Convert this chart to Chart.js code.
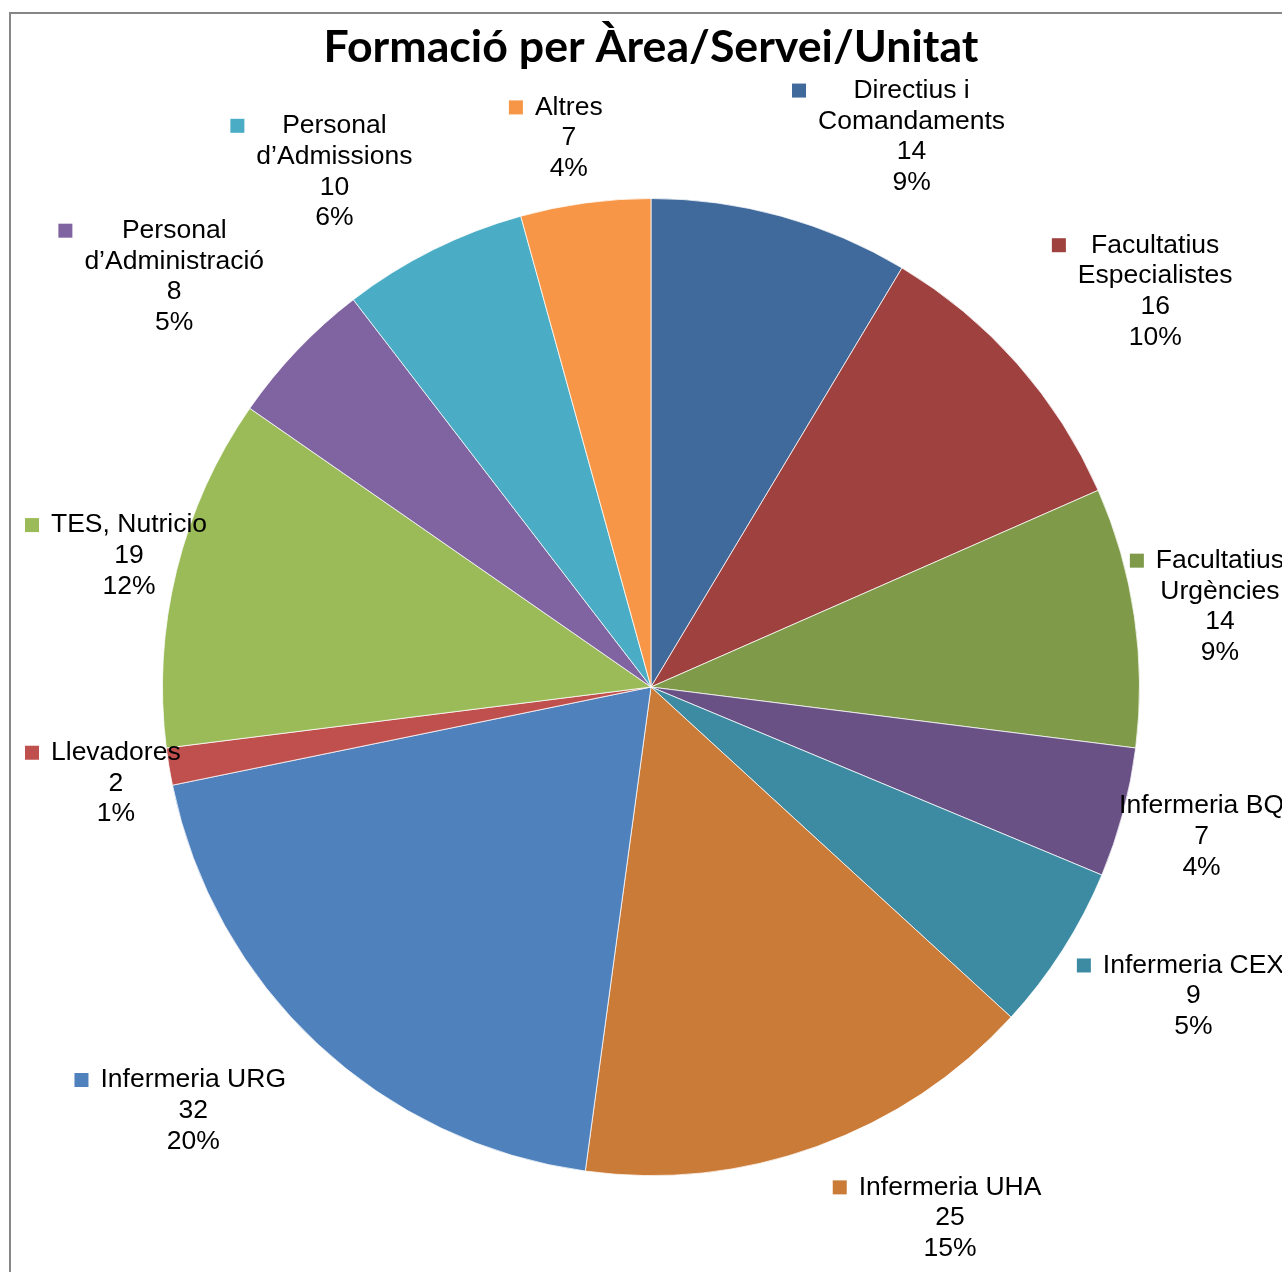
<!DOCTYPE html>
<html><head><meta charset="utf-8">
<script src="https://cdn.jsdelivr.net/npm/chart.js@4.4.1/dist/chart.umd.min.js"></script>
<style>html,body{margin:0;padding:0;background:#fff;}canvas{display:block;}</style>
</head><body>
<canvas id="c" width="1282" height="1272"></canvas>
<script>
const categories = ['Directius i Comandaments','Facultatius Especialistes','Facultatius Urgències','Infermeria BQ','Infermeria CEX','Infermeria UHA','Infermeria URG','Llevadores','TES, Nutricio','Personal d’Administració','Personal d’Admissions','Altres'];
const values = [14,16,14,7,9,25,32,2,19,8,10,7];
const percentLabels = ['9%','10%','9%','4%','5%','15%','20%','1%','12%','5%','6%','4%'];
const sliceColors = ['#406A9B','#9E413F','#7F9A48','#695185','#3C8BA3','#CB7B38','#4F81BD','#C0504D','#9BBB59','#8064A2','#4BACC6','#F79646'];
const titleText = 'Formació per Àrea/Servei/Unitat';

const mctx = document.createElement('canvas').getContext('2d');
mctx.font = 'bold 100px Lato';
const titleSize = Math.round(100 * 655 / mctx.measureText(titleText).width * 10) / 10;
const titlePadTop = 48 - titleSize * 0.6;
const titlePadBottom = 102 - titlePadTop - titleSize * 1.2;

function wrap(ctx, text, maxW) {
  const words = text.split(' '); const out = []; let cur = '';
  for (const w of words) {
    const t = cur ? cur + ' ' + w : w;
    if (cur && ctx.measureText(t).width > maxW) { out.push(cur); cur = w; } else cur = t;
  }
  if (cur) out.push(cur);
  return out;
}

const framePlugin = {
  id: 'frame',
  beforeDraw(chart) {
    const ctx = chart.ctx;
    ctx.save();
    ctx.fillStyle = '#ffffff';
    ctx.fillRect(0, 0, chart.width, chart.height);
    ctx.strokeStyle = '#868686';
    ctx.lineWidth = 2;
    ctx.strokeRect(10, 13, 3000, 3000);
    ctx.restore();
  }
};

const labelPlugin = {
  id: 'sliceLabels',
  afterDatasetsDraw(chart) {
    const ctx = chart.ctx;
    const meta = chart.getDatasetMeta(0);
    const lineH = 30.7, key = 14, keyGap = 12, gapX = 46, gapY = 23, textShift = 4, maxW = 200, k = 3.7;
    const bounds = {l: 25, r: 1284, t: 40, b: 1272};
    ctx.save();
    ctx.font = '26.5px "Liberation Sans", Arial, sans-serif';
    meta.data.forEach((arc, i) => {
      const {x, y, startAngle, endAngle, outerRadius} = arc.getProps(['x','y','startAngle','endAngle','outerRadius'], true);
      const lines = wrap(ctx, categories[i], maxW).concat([String(values[i]), percentLabels[i]]);
      const tw = Math.max(...lines.map(s => ctx.measureText(s).width));
      const W = key + keyGap + tw, H = lines.length * lineH;
      const mid = (startAngle + endAngle) / 2;
      const sx = Math.cos(mid), sy = Math.sin(mid);
      const ax = x + sx * (outerRadius + gapX), ay = y + sy * (outerRadius + gapY);
      const fx = Math.min(1, k * Math.abs(sx)), fy = Math.min(1, k * Math.abs(sy));
      let cx = ax + Math.sign(sx) * W / 2 * fx;
      let cy = ay + Math.sign(sy) * H / 2 * fy;
      if (cx - W / 2 < bounds.l || cx + W / 2 > bounds.r) {
        cy = ay + Math.sign(sy) * H / 2 * Math.abs(sy) * 1.2;
        cx = Math.min(Math.max(cx, bounds.l + W / 2), bounds.r - W / 2);
      }
      cy = Math.min(Math.max(cy, bounds.t + H / 2), bounds.b - H / 2);
      const boxL = cx - W / 2, textCx = boxL + key + keyGap + tw / 2, top = cy - H / 2 + textShift;
      ctx.fillStyle = sliceColors[i];
      ctx.fillRect(boxL, top + lineH / 2 - key / 2, key, key);
      ctx.fillStyle = '#000000';
      ctx.textAlign = 'center';
      ctx.textBaseline = 'middle';
      lines.forEach((s, j) => ctx.fillText(s, textCx, top + lineH * (j + 0.5)));
    });
    ctx.restore();
  }
};

new Chart(document.getElementById('c'), {
  type: 'pie',
  data: {
    labels: categories,
    datasets: [{ data: values, backgroundColor: sliceColors, borderColor: '#ffffff', borderWidth: 0.75, hoverOffset: 0 }]
  },
  options: {
    responsive: false,
    animation: false,
    devicePixelRatio: 1,
    radius: 488.5,
    layout: { padding: { left: 20, right: 0, top: 0, bottom: 0 } },
    plugins: {
      legend: { display: false },
      tooltip: { enabled: false },
      title: {
        display: true,
        text: titleText,
        color: '#000000',
        font: { family: 'Lato', weight: 'bold', size: titleSize, lineHeight: 1.2 },
        padding: { top: titlePadTop, bottom: titlePadBottom }
      }
    }
  },
  plugins: [framePlugin, labelPlugin]
});
</script>
</body></html>
